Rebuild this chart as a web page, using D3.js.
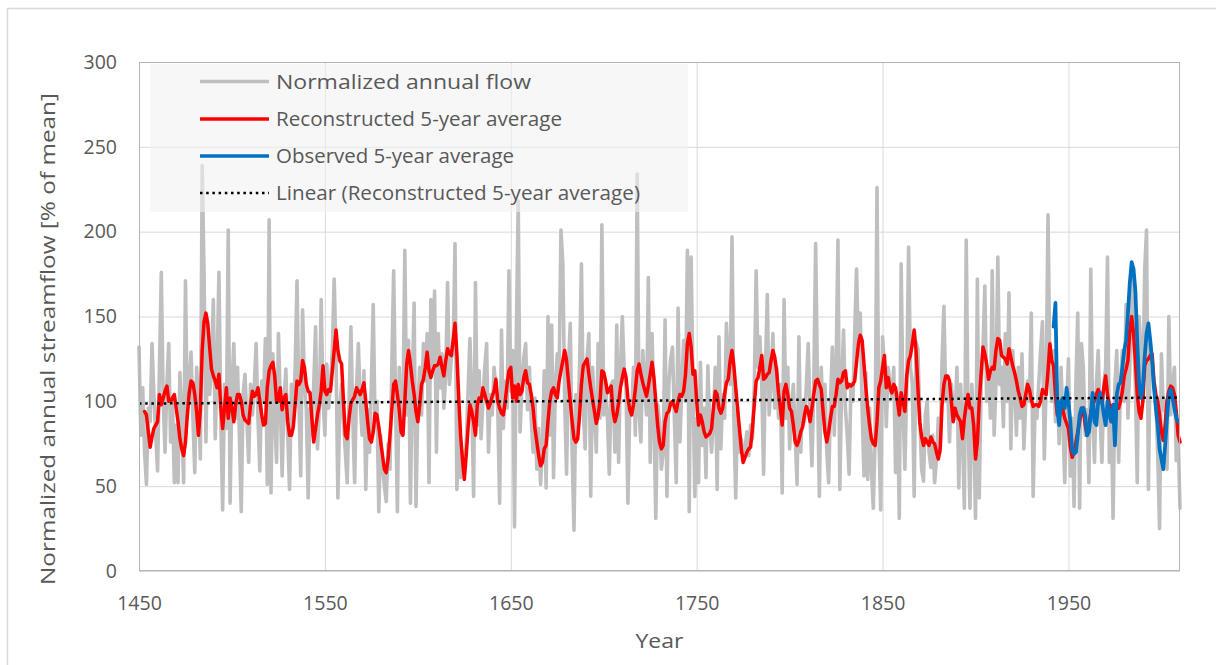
<!DOCTYPE html>
<html>
<head>
<meta charset="utf-8">
<script src="https://cdn.jsdelivr.net/npm/d3@7/dist/d3.min.js"></script>
<style>
  body { margin: 0; background: #ffffff; }
  svg { display: block; }
  text { font-family: "Open Sans", Lato, sans-serif; fill: #595959; }
</style>
</head>
<body>
<svg id="chart" width="1216" height="665"></svg>
<script>
// Normalized annual flow, one value per year starting in 1450 (% of mean)
const flowStartYear = 1450;
const annualFlow = [
  132, 80, 108, 70, 51, 96, 88, 134, 104, 80,
  59, 120, 176, 101, 70, 110, 134, 76, 100, 52,
  86, 52, 117, 88, 52, 171, 91, 110, 129, 90,
  58, 120, 101, 66, 239, 175, 76, 145, 104, 120,
  160, 78, 119, 176, 90, 36, 110, 84, 201, 40,
  110, 134, 90, 120, 80, 35, 104, 116, 90, 64,
  110, 92, 108, 134, 90, 59, 112, 100, 137, 51,
  207, 46, 128, 90, 64, 140, 100, 56, 100, 119,
  80, 48, 110, 88, 120, 171, 100, 56, 154, 110,
  96, 43, 96, 80, 110, 144, 72, 96, 160, 100,
  80, 122, 96, 110, 130, 172, 125, 43, 96, 110,
  88, 70, 52, 100, 144, 90, 52, 108, 134, 100,
  80, 118, 48, 95, 70, 110, 157, 85, 100, 35,
  80, 62, 50, 41, 75, 60, 120, 177, 100, 35,
  120, 80, 95, 189, 92, 136, 40, 110, 158, 38,
  96, 120, 92, 134, 112, 140, 52, 160, 118, 165,
  70, 140, 108, 128, 96, 116, 170, 110, 125, 130,
  193, 48, 90, 55, 70, 62, 74, 105, 137, 102,
  44, 170, 86, 118, 78, 100, 120, 134, 70, 104,
  92, 120, 108, 96, 40, 142, 84, 112, 96, 177,
  106, 130, 26, 140, 218, 82, 110, 126, 134, 95,
  120, 90, 70, 102, 60, 84, 51, 72, 118, 49,
  150, 80, 145, 55, 110, 128, 115, 201, 181, 100,
  57, 120, 146, 70, 24, 104, 82, 120, 181, 95,
  72, 125, 140, 44, 120, 94, 70, 134, 90, 204,
  92, 110, 90, 57, 110, 112, 70, 145, 64, 120,
  150, 118, 108, 40, 96, 92, 120, 80, 234, 92,
  76, 130, 110, 92, 173, 64, 140, 90, 31, 98,
  88, 60, 70, 148, 44, 110, 125, 132, 90, 52,
  155, 76, 110, 136, 100, 189, 35, 185, 110, 44,
  90, 52, 123, 74, 96, 55, 121, 86, 70, 90,
  120, 48, 138, 72, 104, 90, 146, 120, 110, 197,
  90, 43, 96, 70, 78, 66, 72, 82, 68, 86,
  78, 110, 177, 120, 138, 110, 57, 120, 163, 92,
  112, 140, 96, 120, 90, 110, 46, 160, 90, 120,
  72, 96, 110, 80, 51, 138, 70, 100, 88, 110,
  134, 90, 62, 110, 193, 110, 44, 120, 90, 110,
  70, 52, 100, 132, 80, 120, 195, 48, 110, 142,
  96, 80, 57, 110, 100, 140, 178, 130, 152, 96,
  56, 117, 54, 96, 60, 37, 80, 226, 80, 36,
  138, 122, 85, 120, 110, 102, 120, 58, 100, 31,
  181, 95, 60, 110, 191, 120, 110, 44, 135, 131,
  90, 60, 53, 92, 100, 70, 61, 80, 52, 66,
  90, 70, 124, 156, 100, 110, 76, 110, 96, 90,
  120, 49, 110, 80, 37, 195, 90, 37, 110, 88,
  31, 172, 43, 110, 130, 168, 100, 120, 90, 177,
  80, 110, 185, 110, 120, 85, 140, 100, 164, 72,
  130, 110, 80, 120, 90, 128, 72, 100, 112, 100,
  152, 44, 96, 90, 110, 130, 147, 66, 110, 210,
  118, 100, 130, 88, 110, 75, 120, 90, 52, 96,
  125, 56, 90, 38, 110, 152, 37, 134, 120, 80,
  95, 52, 178, 90, 64, 110, 130, 90, 64, 110,
  120, 185, 64, 96, 31, 110, 130, 64, 110, 130,
  100, 157, 90, 120, 177, 140, 110, 52, 150, 130,
  100, 177, 201, 48, 134, 120, 110, 100, 70, 25,
  128, 95, 100, 60, 150, 92, 110, 120, 65, 80,
  37
];

// Reconstructed 5-year average, one value per year starting in 1453
const reconStartYear = 1453;
const reconstructed5yr = [
  94, 92, 82, 73, 79, 84, 86,
  88, 104, 98, 102, 106, 109, 100, 100, 102, 104,
  96, 88, 78, 72, 68, 76, 92, 105, 112, 111,
  104, 94, 80, 95, 130, 147, 152, 146, 132, 119,
  115, 112, 108, 116, 96, 84, 96, 108, 90, 102,
  96, 88, 98, 104, 104, 100, 92, 89, 88, 87,
  98, 106, 103, 104, 108, 100, 92, 86, 87, 108,
  118, 121, 123, 115, 100, 100, 108, 95, 102, 104,
  88, 80, 80, 85, 98, 112, 110, 112, 124, 120,
  110, 106, 105, 90, 76, 84, 92, 98, 106, 121,
  106, 104, 107, 106, 118, 130, 142, 130, 124, 122,
  100, 80, 78, 90, 99, 101, 103, 108, 106, 104,
  107, 111, 100, 88, 78, 76, 82, 93, 92, 85,
  76, 68, 60, 58, 66, 80, 95, 110, 112, 104,
  95, 82, 80, 100, 122, 130, 122, 112, 104, 94,
  88, 98, 110, 113, 120, 129, 118, 114, 118, 121,
  121, 122, 126, 120, 115, 124, 131, 128, 127, 136,
  146, 128, 102, 80, 66, 54, 68, 84, 98, 94,
  88, 80, 98, 102, 100, 108, 104, 100, 96, 99,
  103, 106, 113, 100, 96, 93, 92, 100, 110, 118,
  120, 102, 109, 100, 110, 104, 106, 114, 118, 111,
  110, 104, 96, 84, 76, 68, 62, 64, 72, 74,
  88, 100, 106, 108, 104, 102, 112, 118, 124, 130,
  124, 112, 100, 88, 78, 76, 78, 92, 110, 121,
  123, 125, 116, 108, 101, 94, 87, 92, 100, 118,
  117, 112, 105, 107, 109, 94, 88, 92, 99, 108,
  114, 119, 114, 102, 95, 92, 98, 107, 118, 122,
  116, 111, 107, 103, 109, 116, 123, 114, 100, 86,
  76, 72, 74, 88, 93, 94, 99, 100, 97, 94,
  100, 104, 103, 106, 116, 134, 140, 132, 116, 118,
  100, 86, 92, 88, 82, 79, 80, 81, 84, 96,
  106, 104, 96, 93, 96, 104, 111, 113, 124, 130,
  121, 108, 96, 84, 72, 64, 67, 70, 72, 73,
  84, 98, 112, 114, 120, 127, 113, 114, 116, 117,
  124, 130, 126, 118, 105, 96, 86, 106, 110, 104,
  96, 94, 86, 76, 74, 77, 82, 85, 92, 97,
  94, 88, 96, 104, 112, 113, 110, 107, 94, 82,
  76, 82, 90, 97, 97, 104, 113, 111, 112, 117,
  118, 108, 110, 109, 110, 112, 123, 134, 139, 136,
  122, 108, 96, 86, 78, 75, 74, 88, 108, 112,
  120, 127, 108, 114, 108, 105, 110, 108, 100, 92,
  105, 100, 94, 115, 124, 127, 134, 142, 130, 108,
  88, 79, 74, 78, 76, 74, 79, 76, 75, 70,
  66, 72, 98, 110, 115, 115, 112, 100, 88, 96,
  92, 90, 88, 78, 90, 98, 104, 96, 96, 86,
  66, 76, 100, 116, 132, 128, 122, 113, 118, 120,
  119, 130, 137, 136, 127, 126, 125, 122, 131, 126,
  121, 117, 112, 106, 102, 97, 98, 104, 110, 107,
  101, 97, 98, 98, 97, 100, 107, 105, 104, 118,
  134, 124, 121, 104, 92, 94, 99, 95, 90, 87,
  84, 73, 67, 70, 76, 82, 88, 94, 96, 86,
  80, 86, 93, 99, 100, 104, 107, 103, 99, 108,
  115, 104, 98, 96, 98, 96, 98, 96, 100, 106,
  115, 119, 124, 142, 150, 140, 124, 104, 94, 90,
  100, 121, 124, 125, 127, 128, 112, 104, 100, 92,
  82, 77, 86, 100, 106, 109, 108, 104, 94, 80,
  76
];

// Observed 5-year average, one value per year starting in 1942
const observedStartYear = 1942;
const observed5yr = [
  144, 158, 96, 86, 100, 102, 96, 108,
  100, 88, 71, 69, 70, 80, 92, 96, 96, 92,
  80, 82, 92, 105, 88, 86, 100, 105, 100, 92,
  86, 100, 92, 88, 98, 74, 104, 110, 111, 120,
  130, 136, 152, 170, 182, 178, 165, 135, 110, 102,
  108, 126, 140, 146, 136, 124, 108, 96, 86, 72,
  66, 60, 74, 90, 104, 107, 102, 96, 90, 88
];

// Linear trend of the reconstructed 5-year average (end points)
const trendYears = [1450, 2010];
const trendValues = [98.7, 102.2];

const xTicks = [1450, 1550, 1650, 1750, 1850, 1950];
const yTicks = [0, 50, 100, 150, 200, 250, 300];

const legendLabels = [
  "Normalized annual flow",
  "Reconstructed 5-year average",
  "Observed 5-year average",
  "Linear (Reconstructed 5-year average)"
];

const colors = { flow: "#bfbfbf", recon: "#ff0000", obs: "#0070c0", trend: "#000000" };

const svg = d3.select("#chart");
const plot = { left: 139, right: 1180, top: 62, bottom: 571 };

const x = d3.scaleLinear().domain([1450, 2010]).range([plot.left, plot.right]);
const y = d3.scaleLinear().domain([0, 300]).range([plot.bottom, plot.top]);

// outer chart frame
svg.append("rect")
  .attr("x", 7.5).attr("y", 8.5)
  .attr("width", 1260).attr("height", 700)
  .attr("fill", "none").attr("stroke", "#d9d9d9").attr("stroke-width", 1.5);

// horizontal gridlines + y tick labels
const yAxis = svg.append("g")
  .attr("transform", `translate(${plot.left},0)`)
  .call(d3.axisLeft(y).tickValues(yTicks).tickSize(-(plot.right - plot.left)).tickPadding(22));
yAxis.select(".domain").remove();
yAxis.selectAll(".tick line").attr("stroke", "#d9d9d9").attr("stroke-width", 1);
yAxis.selectAll(".tick text")
  .style("font-family", "'Open Sans', Lato, sans-serif")
  .attr("font-size", 19.5).attr("fill", "#595959");

// vertical gridlines + x tick labels
const xAxis = svg.append("g")
  .attr("transform", `translate(0,${plot.bottom})`)
  .call(d3.axisBottom(x).tickValues(xTicks).tickFormat(d3.format("d"))
    .tickSize(-(plot.bottom - plot.top)).tickPadding(25));
xAxis.select(".domain").remove();
xAxis.selectAll(".tick line").attr("stroke", "#d9d9d9").attr("stroke-width", 1);
xAxis.selectAll(".tick text")
  .style("font-family", "'Open Sans', Lato, sans-serif")
  .attr("font-size", 19.5).attr("fill", "#595959");

// series
const flowPts = annualFlow.map((v, i) => [flowStartYear + i, v]);
const reconPts = reconstructed5yr.map((v, i) => [reconStartYear + i, v]);
const obsPts = observed5yr.map((v, i) => [observedStartYear + i, v]);
const trendPts = trendYears.map((yr, i) => [yr, trendValues[i]]);

const line = d3.line().x(d => x(d[0])).y(d => y(d[1]));

const series = svg.append("g");
series.append("path").datum(flowPts)
  .attr("d", line).attr("fill", "none")
  .attr("stroke", colors.flow).attr("stroke-width", 3.6)
  .attr("stroke-linejoin", "round").attr("stroke-linecap", "round");
series.append("path").datum(reconPts)
  .attr("d", line).attr("fill", "none")
  .attr("stroke", colors.recon).attr("stroke-width", 3.5)
  .attr("stroke-linejoin", "round").attr("stroke-linecap", "round");
series.append("path").datum(obsPts)
  .attr("d", line).attr("fill", "none")
  .attr("stroke", colors.obs).attr("stroke-width", 3.75)
  .attr("stroke-linejoin", "round").attr("stroke-linecap", "round");
series.append("path").datum(trendPts)
  .attr("d", line).attr("fill", "none")
  .attr("stroke", colors.trend).attr("stroke-width", 2.5)
  .attr("stroke-dasharray", "2.5 3.7");

// plot area border
svg.append("rect")
  .attr("x", plot.left + 0.5).attr("y", plot.top + 0.5)
  .attr("width", plot.right - plot.left - 1).attr("height", plot.bottom - plot.top - 1)
  .attr("fill", "none").attr("stroke", "#b4b4b4").attr("stroke-width", 1);

// legend
const legend = svg.append("g");
legend.append("rect")
  .attr("x", 150).attr("y", 64).attr("width", 538).attr("height", 148)
  .attr("fill", "#f2f2f2").attr("fill-opacity", 0.6);
const legendStyles = [
  { color: colors.flow, width: 3.5, dash: null },
  { color: colors.recon, width: 3.5, dash: null },
  { color: colors.obs, width: 3.5, dash: null },
  { color: colors.trend, width: 2.5, dash: "2.5 3.7" }
];
const rowY = [81.5, 119, 156, 193];
const labelWidths = [255, 286, 238, 364];
legendLabels.forEach((label, i) => {
  const s = legendStyles[i];
  legend.append("line")
    .attr("x1", 200).attr("x2", 269).attr("y1", rowY[i]).attr("y2", rowY[i])
    .attr("stroke", s.color).attr("stroke-width", s.width)
    .attr("stroke-dasharray", s.dash);
  legend.append("text")
    .attr("x", 276).attr("y", rowY[i]).attr("dy", "0.35em")
    .attr("font-size", 20)
    .attr("textLength", labelWidths[i]).attr("lengthAdjust", "spacingAndGlyphs")
    .text(label);
});

// axis titles
svg.append("text")
  .attr("transform", "translate(55,339) rotate(-90)")
  .attr("text-anchor", "middle").attr("font-size", 20.5)
  .attr("textLength", 492).attr("lengthAdjust", "spacingAndGlyphs")
  .text("Normalized annual streamflow [% of mean]");
svg.append("text")
  .attr("x", (plot.left + plot.right) / 2).attr("y", 648)
  .attr("text-anchor", "middle").attr("font-size", 20.5)
  .attr("textLength", 48).attr("lengthAdjust", "spacingAndGlyphs")
  .text("Year");
</script>
</body>
</html>
